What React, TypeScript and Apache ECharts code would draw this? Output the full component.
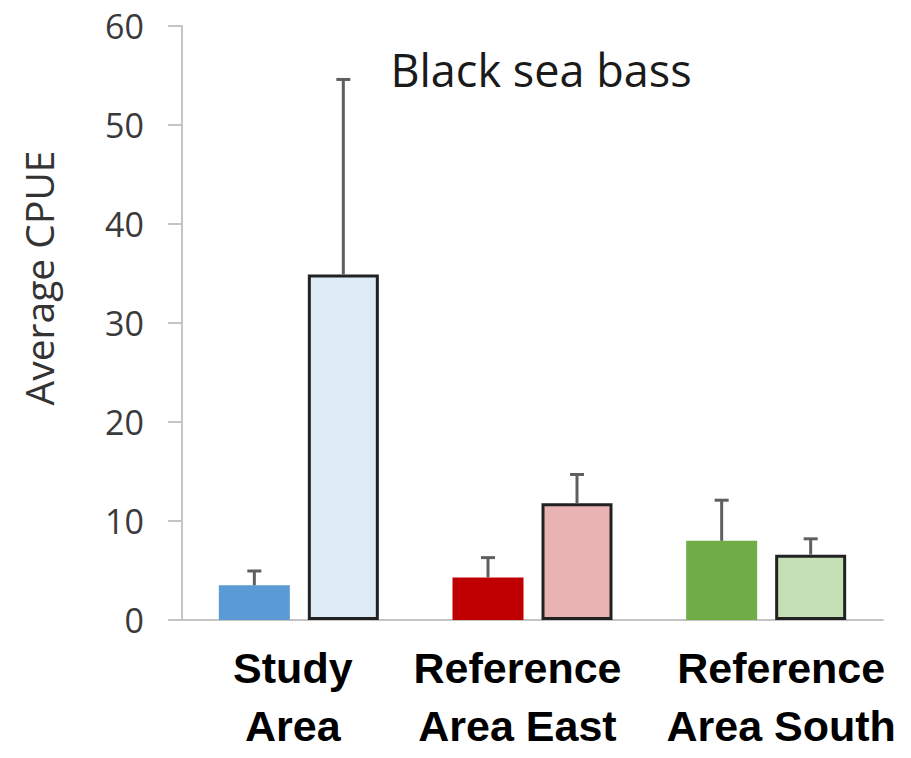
import React, { useEffect, useRef } from "react";
import * as echarts from "echarts";

const categories = ["Study\nArea", "Reference\nArea East", "Reference\nArea South"];
const baseValues = [3.5, 4.3, 8.0];
const baseErrors = [1.45, 2.0, 4.1];
const altValues = [34.9, 11.8, 6.6];
const altErrors = [19.7, 2.9, 1.6];
const baseColors = ["#5b9bd5", "#c00000", "#70ad47"];
const altColors = ["#ddebf7", "#e8b3b2", "#c5e0b4"];
const yTicks = [0, 10, 20, 30, 40, 50, 60];
const title = "Black sea bass";
const yName = "Average CPUE";

const BAR_W = 71;
const BAR_GAP = 18;

export default function App() {
  const ref = useRef<HTMLDivElement>(null);
  useEffect(() => {
    if (!ref.current) return;
    const chart = echarts.init(ref.current, null, { renderer: "svg" });
    const offset = (BAR_W + BAR_GAP) / 2;
    const errData: any[] = [];
    baseValues.forEach((v, i) => errData.push([i, v, baseErrors[i], -1]));
    altValues.forEach((v, i) => errData.push([i, v, altErrors[i], 1]));
    const richKeys = ["c0", "c1", "c2"];
    const lbl = { fontFamily: "Liberation Sans", fontWeight: "bold", fontSize: 43, lineHeight: 58, color: "#000" };
    chart.setOption({
      animation: false,
      grid: { left: 182, right: 28, top: 26, bottom: 138, containLabel: false },
      title: {
        text: title,
        left: 536,
        top: 42,
        textAlign: "center",
        textStyle: { fontFamily: "Open Sans", fontSize: 45, fontWeight: "normal", color: "#1a1a1a" },
      },
      graphic: [
        {
          type: "text",
          x: 38,
          y: 278,
          rotation: Math.PI / 2,
          style: {
            text: yName,
            fontFamily: "Open Sans",
            fontSize: 39,
            fill: "#333333",
            align: "center",
            verticalAlign: "middle",
          },
        },
      ],
      xAxis: {
        type: "category",
        data: categories,
        axisLine: { show: true, lineStyle: { color: "#c4c4c4", width: 2 } },
        axisTick: { show: false },
        axisLabel: {
          margin: 19,
          interval: 0,
          formatter: (val: string, idx: number) =>
            val
              .split("\n")
              .map((l) => `{${richKeys[idx]}|${l}}`)
              .join("\n"),
          rich: {
            c0: { ...lbl, padding: [0, 12, 0, 0] },
            c1: { ...lbl, padding: [0, 30, 0, 0] },
            c2: { ...lbl, padding: [0, 0, 0, 30] },
          },
        },
      },
      yAxis: {
        type: "value",
        min: 0,
        max: 60,
        interval: 10,
        splitLine: { show: false },
        axisLine: { show: true, lineStyle: { color: "#c4c4c4", width: 2 } },
        axisTick: { show: true, length: 14, lineStyle: { color: "#c4c4c4", width: 2 } },
        axisLabel: {
          margin: 38,
          fontFamily: "Open Sans",
          fontSize: 34,
          color: "#3a3a3a",
          formatter: (v: number) => (yTicks.includes(v) ? String(v) : ""),
        },
      },
      series: [
        {
          type: "bar",
          barWidth: BAR_W,
          barGap: `${(BAR_GAP / BAR_W) * 100}%`,
          data: baseValues.map((v, i) => ({ value: v, itemStyle: { color: baseColors[i] } })),
        },
        {
          type: "bar",
          barWidth: BAR_W,
          data: altValues.map((v, i) => ({
            value: v,
            itemStyle: { color: altColors[i], borderColor: "#222222", borderWidth: 3 },
          })),
        },
        {
          type: "custom",
          data: errData,
          z: 10,
          renderItem: (params: any, api: any) => {
            const cat = api.value(0);
            const val = api.value(1);
            const err = api.value(2);
            const side = api.value(3);
            const p0 = api.coord([cat, val]);
            const p1 = api.coord([cat, val + err]);
            const x = p0[0] + side * offset;
            const style = { stroke: "#5f5f5f", lineWidth: 3 };
            return {
              type: "group",
              children: [
                { type: "line", shape: { x1: x, y1: p0[1], x2: x, y2: p1[1] }, style },
                { type: "line", shape: { x1: x - 7, y1: p1[1], x2: x + 7, y2: p1[1] }, style },
              ],
            };
          },
        },
      ],
    });
    return () => chart.dispose();
  }, []);
  return (
    <div
      ref={ref}
      style={{ position: "absolute", left: 0, top: 0, width: 911, height: 758 }}
    />
  );
}
